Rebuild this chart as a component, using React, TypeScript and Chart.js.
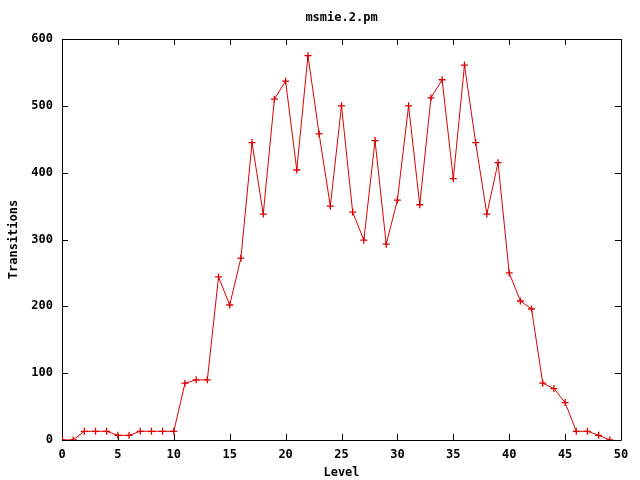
import React, { useEffect, useRef } from "react";
import { Chart, registerables } from "chart.js";

Chart.register(...registerables);

const chartTitle = "msmie.2.pm";
const xTitle = "Level";
const yTitle = "Transitions";

const levels = [
  0, 1, 2, 3, 4, 5, 6, 7, 8, 9,
  10, 11, 12, 13, 14, 15, 16, 17, 18, 19,
  20, 21, 22, 23, 24, 25, 26, 27, 28, 29,
  30, 31, 32, 33, 34, 35, 36, 37, 38, 39,
  40, 41, 42, 43, 44, 45, 46, 47, 48, 49,
];
const transitions = [
  0, 0, 13, 13, 13, 7, 7, 13, 13, 13,
  13, 85, 90, 90, 244, 202, 272, 445, 338, 510,
  537, 404, 575, 458, 350, 500, 341, 299, 448, 293,
  359, 500, 352, 512, 539, 391, 561, 445, 338, 415,
  250, 208, 196, 85, 77, 56, 13, 13, 7, 0,
];

const xMin = 0;
const xMax = 50;
const xStep = 5;
const yMin = 0;
const yMax = 600;
const yStep = 100;

const FONT_FAMILY = "'DejaVu Sans Mono', 'Liberation Mono', monospace";
const LINE_COLOR = "rgb(220,0,0)";

const framePlugin = {
  id: "gnuplotFrame",
  beforeDatasetsDraw(chart: any) {
    const { ctx, chartArea } = chart;
    const { left, right, top, bottom } = chartArea;
    const xs = chart.scales.x;
    const ys = chart.scales.y;
    const tl = 6;
    ctx.save();
    ctx.strokeStyle = "#000";
    ctx.lineWidth = 1;
    ctx.beginPath();
    ctx.rect(Math.round(left) + 0.5, Math.round(top) + 0.5, Math.round(right - left), Math.round(bottom - top));
    ctx.stroke();
    ctx.beginPath();
    xs.ticks.forEach((t: any) => {
      const px = Math.round(xs.getPixelForValue(t.value)) + 0.5;
      ctx.moveTo(px, bottom);
      ctx.lineTo(px, bottom - tl);
      ctx.moveTo(px, top);
      ctx.lineTo(px, top + tl);
    });
    ys.ticks.forEach((t: any) => {
      const py = Math.round(ys.getPixelForValue(t.value)) + 0.5;
      ctx.moveTo(left, py);
      ctx.lineTo(left + tl, py);
      ctx.moveTo(right, py);
      ctx.lineTo(right - tl, py);
    });
    ctx.stroke();
    ctx.restore();
  },
  afterDraw(chart: any) {
    const { ctx, chartArea } = chart;
    const cx = (chartArea.left + chartArea.right) / 2;
    const cy = (chartArea.top + chartArea.bottom) / 2;
    ctx.save();
    ctx.fillStyle = "#000";
    ctx.font = `bold 12px ${FONT_FAMILY}`;
    ctx.textAlign = "center";
    ctx.textBaseline = "middle";
    ctx.fillText(chartTitle, cx, 18);
    ctx.fillText(xTitle, cx, 473);
    ctx.translate(14, cy);
    ctx.rotate(-Math.PI / 2);
    ctx.fillText(yTitle, 0, 0);
    ctx.restore();
  },
};

export default function App() {
  const canvasRef = useRef<HTMLCanvasElement | null>(null);

  useEffect(() => {
    const canvas = canvasRef.current;
    if (!canvas) return;
    const points = levels.map((lv, i) => ({ x: lv, y: transitions[i] }));
    const chart = new Chart(canvas, {
      type: "line",
      data: {
        datasets: [
          {
            data: points,
            borderColor: LINE_COLOR,
            backgroundColor: LINE_COLOR,
            borderWidth: 1,
            pointStyle: "cross",
            pointRadius: 3.5,
            pointBorderWidth: 1.3,
            pointBorderColor: LINE_COLOR,
            tension: 0,
            fill: false,
          },
        ],
      },
      options: {
        responsive: false,
        animation: false,
        devicePixelRatio: 1,
        layout: { padding: { top: 39, right: 19, left: 0, bottom: 0 } },
        plugins: {
          legend: { display: false },
          title: { display: false },
          tooltip: { enabled: false },
        },
        scales: {
          x: {
            type: "linear",
            min: xMin,
            max: xMax,
            grid: { display: false, drawTicks: false },
            border: { display: false },
            ticks: {
              stepSize: xStep,
              color: "#000",
              padding: 8,
              maxRotation: 0,
              font: { family: FONT_FAMILY, size: 12, weight: "bold" },
            },
            afterFit: (s: any) => {
              s.height = 40;
            },
          },
          y: {
            type: "linear",
            min: yMin,
            max: yMax,
            grid: { display: false, drawTicks: false },
            border: { display: false },
            ticks: {
              stepSize: yStep,
              color: "#000",
              padding: 9,
              font: { family: FONT_FAMILY, size: 12, weight: "bold" },
            },
            afterFit: (s: any) => {
              s.width = 62;
            },
          },
        },
      },
      plugins: [framePlugin],
    });
    return () => chart.destroy();
  }, []);

  return (
    <div style={{ position: "fixed", left: 0, top: 0, width: 640, height: 480, background: "#fff" }}>
      <canvas ref={canvasRef} width={640} height={480} style={{ display: "block" }} />
    </div>
  );
}
